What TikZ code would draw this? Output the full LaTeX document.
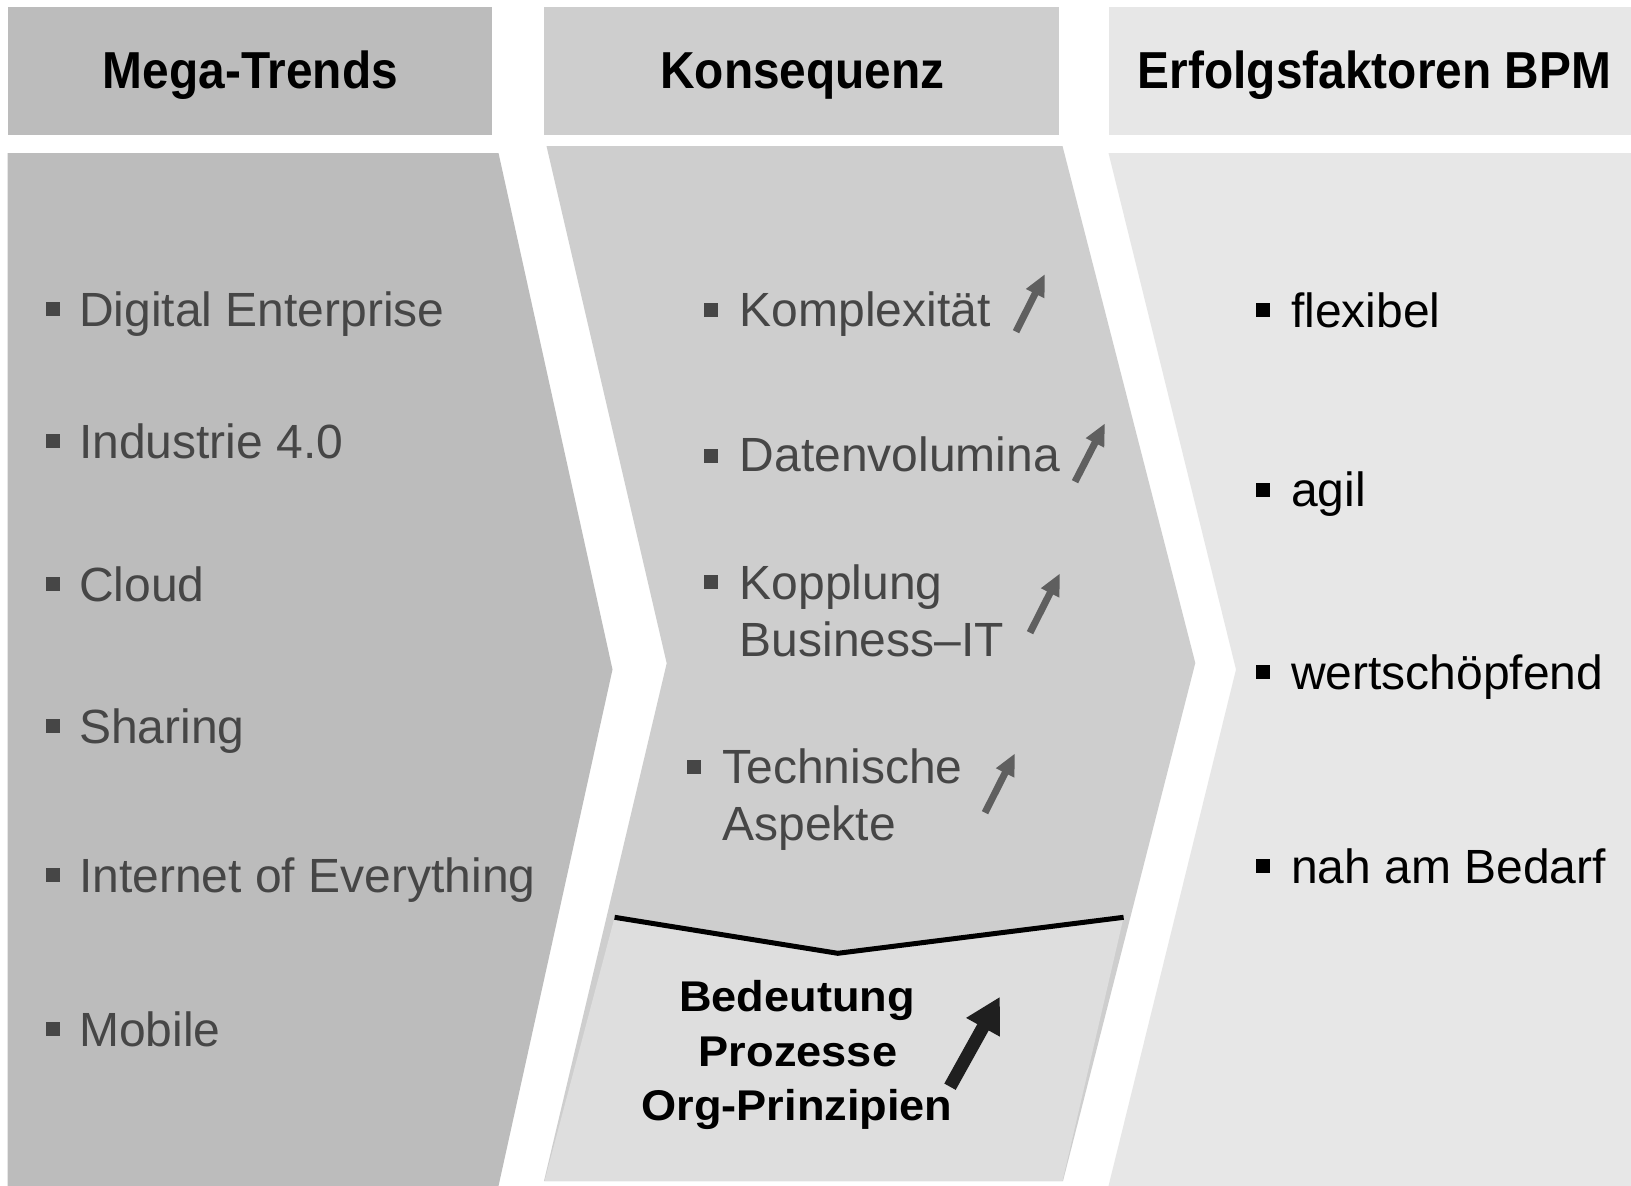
\documentclass[tikz,border=0pt]{standalone}
\usepackage{fontspec}
\setmainfont{Liberation Sans}
\newfontfamily\hdrfont{Liberation Sans Bold}[FakeStretch=0.92]
\newfontfamily\bfwide{Liberation Sans Bold}[FakeStretch=1.05]
\usetikzlibrary{arrows.meta}
\definecolor{cA}{HTML}{BCBCBC}
\definecolor{cB}{HTML}{CECECE}
\definecolor{cC}{HTML}{E7E7E7}
\definecolor{cD}{HTML}{DEDEDE}
\definecolor{txtgray}{HTML}{464646}
\definecolor{arrgray}{HTML}{5F5F5F}
\begin{document}
\begin{tikzpicture}[x=1pt,y=-1pt,
  hdr/.style={anchor=base,inner sep=0pt,text=black,font=\hdrfont\fontsize{52}{62}\selectfont},
  item/.style={anchor=base west,inner sep=0pt,text=txtgray,font=\fontsize{48}{57}\selectfont},
  itemblk/.style={item,text=black},
  bul/.style={rectangle,fill=txtgray,draw=none,minimum size=14pt,inner sep=0pt},
  bulblk/.style={bul,fill=black},
  boldtxt/.style={anchor=base,inner sep=0pt,text=black,font=\bfwide\fontsize{43}{54}\selectfont},
  garr/.style={draw=arrgray,line width=7pt,-{Triangle[length=22pt,width=19pt]}},
  barr/.style={draw=black!88,line width=13pt,-{Triangle[length=35pt,width=36pt]}}
]
\useasboundingbox (0,0) rectangle (1631,1186);
\fill[white] (0,0) rectangle (1631,1186);

% headers
\fill[cA] (7.7,6.5) rectangle (491.8,134.5);
\fill[cB] (544,6.5) rectangle (1058.6,134.5);
\fill[cC] (1108.7,6.5) rectangle (1631,134.5);
\node[hdr] (h1) at (250.5,88.3) {Mega-Trends};
\node[hdr] (h2) at (802.5,88.3) {Konsequenz};
\node[hdr] (h3) at (1374.5,88.3) {Erfolgsfaktoren BPM};

% chevron bodies
\fill[cA] (7.7,153) -- (498.5,153) -- (612.5,669.5) -- (498.5,1186) -- (7.7,1186) -- cycle;
\fill[cB] (546.5,146) -- (1062.5,146) -- (1195.3,663) -- (1063,1181) -- (544,1181) -- (666.7,663.3) -- cycle;
\fill[cC] (1108.5,153) -- (1631,153) -- (1631,1186) -- (1108.5,1186) -- (1236,669.5) -- cycle;

% lower light region with V line
\fill[cD] (614.6,917.3) -- (837.8,953.3) -- (1123.6,917.3) -- (1062.5,1181) -- (544.5,1181) -- cycle;
\coordinate (vl) at (614.6,917.3);
\coordinate (vm) at (837.8,953.3);
\coordinate (vr) at (1123.6,917.3);
\draw[line width=5pt,black] (vl) -- (vm) -- (vr);

% column 1
\node[bul] (b11) at (53.3,309.4) {};
\node[item] (t11) at (79,326.7) {Digital Enterprise};
\node[bul] (b12) at (53.3,441) {};
\node[item] (t12) at (79,458.3) {Industrie 4.0};
\node[bul] (b13) at (53.3,584.4) {};
\node[item] (t13) at (79,601.7) {Cloud};
\node[bul] (b14) at (53.3,726) {};
\node[item] (t14) at (79,743.3) {Sharing};
\node[bul] (b15) at (53.3,875) {};
\node[item] (t15) at (79,892.3) {Internet of Everything};
\node[bul] (b16) at (53.3,1029.4) {};
\node[item] (t16) at (79,1046.7) {Mobile};

% column 2
\node[bul] (b21) at (710.8,309.5) {};
\node[item] (t21) at (739.5,326) {Komplexität};
\node[bul] (b22) at (710.8,455.5) {};
\node[item] (t22) at (739.5,471.7) {Datenvolumina};
\node[bul] (b23) at (710.8,582.2) {};
\node[item] (t23a) at (739.5,599.3) {Kopplung};
\node[item] (t23b) at (739.5,656.7) {Business–IT};
\node[bul] (b24) at (693.7,766.6) {};
\node[item] (t24a) at (722.3,783.3) {Technische};
\node[item] (t24b) at (722.3,840) {Aspekte};

\coordinate (a1s) at (1016,331.7);  \coordinate (a1e) at (1045,274);
\coordinate (a2s) at (1075,481.7);  \coordinate (a2e) at (1105,423.3);
\coordinate (a3s) at (1030,632.7);  \coordinate (a3e) at (1060,573.3);
\coordinate (a4s) at (985,812.7);   \coordinate (a4e) at (1015,753.3);
\draw[garr] (a1s) -- (a1e);
\draw[garr] (a2s) -- (a2e);
\draw[garr] (a3s) -- (a3e);
\draw[garr] (a4s) -- (a4e);

% bold lower text
\node[boldtxt] (bd1) at (797,1011.7) {Bedeutung};
\node[boldtxt] (bd2) at (798,1066.7) {Prozesse};
\node[boldtxt] (bd3) at (797,1120) {Org-Prinzipien};
\coordinate (abs) at (950,1086.7);
\coordinate (abe) at (1000,996.7);
\draw[barr] (abs) -- (abe);

% column 3
\node[bulblk] (b31) at (1263.3,310) {};
\node[itemblk] (t31) at (1291,327.3) {flexibel};
\node[bulblk] (b32) at (1263.3,489.5) {};
\node[itemblk] (t32) at (1291,506.7) {agil};
\node[bulblk] (b33) at (1263.3,671.8) {};
\node[itemblk] (t33) at (1291,689) {wertschöpfend};
\node[bulblk] (b34) at (1263.3,866) {};
\node[itemblk] (t34) at (1291,883.3) {nah am Bedarf};
\end{tikzpicture}
\end{document}
